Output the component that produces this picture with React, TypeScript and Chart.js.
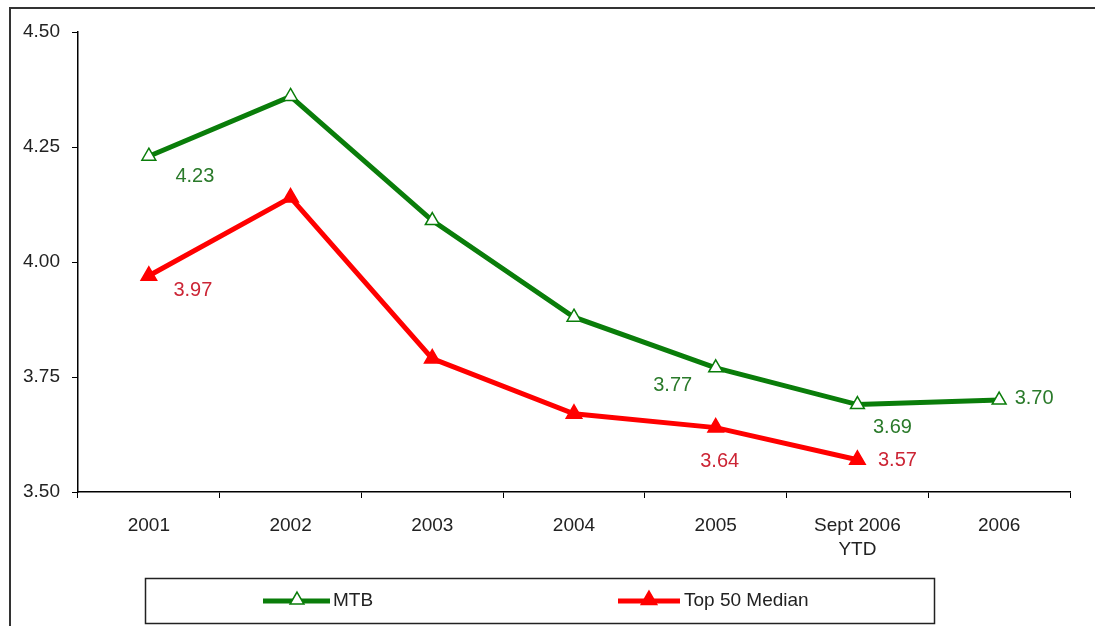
import React, { useEffect, useRef } from "react";
import { Chart, registerables } from "chart.js";

Chart.register(...registerables);

const categories: (string | string[])[] = ["2001", "2002", "2003", "2004", "2005", ["Sept 2006", "YTD"], "2006"];
const mtbValues: (number | null)[] = [4.23, 4.36, 4.09, 3.88, 3.77, 3.69, 3.7];
const top50Values: (number | null)[] = [3.97, 4.14, 3.79, 3.67, 3.64, 3.57, null];
const yTicks = [3.5, 3.75, 4.0, 4.25, 4.5];
const mtbLabel = "MTB";
const top50Label = "Top 50 Median";

// which points carry a value label, and where (style only)
const mtbLabelShown = [true, false, false, false, true, true, true];
const top50LabelShown = [true, false, false, false, true, true, false];
const mtbLabelOffsets = [[46, 20], [0, 0], [0, 0], [0, 0], [-43, 18], [35, 23], [35, -2]];
const top50LabelOffsets = [[44, 15], [0, 0], [0, 0], [0, 0], [4, 34], [40, 1], [0, 0]];

const GREEN = "#0a7d0a";
const RED = "#ff0000";
const GREEN_TEXT = "#2a7a2a";
const RED_TEXT = "#cc2535";
const FONT = "'Liberation Sans', Arial, sans-serif";

function tri(ctx: CanvasRenderingContext2D, x: number, y: number, r: number, fill: string, stroke: string) {
  ctx.beginPath();
  for (let i = 0; i < 3; i++) {
    const a = -Math.PI / 2 + (i * 2 * Math.PI) / 3;
    const px = x + Math.cos(a) * r;
    const py = y + Math.sin(a) * r;
    if (i === 0) ctx.moveTo(px, py);
    else ctx.lineTo(px, py);
  }
  ctx.closePath();
  ctx.fillStyle = fill;
  ctx.fill();
  ctx.lineWidth = 1.5;
  ctx.strokeStyle = stroke;
  ctx.stroke();
}

const decorPlugin = {
  id: "decor",
  afterDatasetsDraw(chart: any) {
    const ctx: CanvasRenderingContext2D = chart.ctx;
    ctx.save();
    ctx.font = `20px ${FONT}`;
    ctx.textAlign = "center";
    ctx.textBaseline = "middle";
    const cfg = [
      { shown: mtbLabelShown, offs: mtbLabelOffsets, vals: mtbValues, color: GREEN_TEXT },
      { shown: top50LabelShown, offs: top50LabelOffsets, vals: top50Values, color: RED_TEXT },
    ];
    cfg.forEach((c, di) => {
      const meta = chart.getDatasetMeta(di);
      meta.data.forEach((pt: any, i: number) => {
        const v = c.vals[i];
        if (!c.shown[i] || v == null) return;
        ctx.fillStyle = c.color;
        ctx.fillText(v.toFixed(2), pt.x + c.offs[i][0], pt.y + c.offs[i][1]);
      });
    });
    ctx.restore();
  },
  afterDraw(chart: any) {
    const ctx: CanvasRenderingContext2D = chart.ctx;
    ctx.save();
    // outer frame
    ctx.strokeStyle = "#333";
    ctx.lineWidth = 2;
    ctx.strokeRect(10, 8, 1300, 900);
    // legend box
    ctx.lineWidth = 1.5;
    ctx.strokeStyle = "#222";
    ctx.strokeRect(145.5, 578.5, 789, 45);
    const ly = 601;
    ctx.lineWidth = 5;
    ctx.strokeStyle = GREEN;
    ctx.beginPath();
    ctx.moveTo(263, ly);
    ctx.lineTo(330, ly);
    ctx.stroke();
    tri(ctx, 297, ly - 1, 8, "#ffffff", GREEN);
    ctx.lineWidth = 5;
    ctx.strokeStyle = RED;
    ctx.beginPath();
    ctx.moveTo(618, ly);
    ctx.lineTo(680, ly);
    ctx.stroke();
    tri(ctx, 649, ly - 1, 9, RED, RED);
    ctx.font = `19px ${FONT}`;
    ctx.fillStyle = "#222";
    ctx.textAlign = "left";
    ctx.textBaseline = "middle";
    ctx.fillText(mtbLabel, 333, ly);
    ctx.fillText(top50Label, 684, ly);
    ctx.restore();
  },
};

export default function App() {
  const ref = useRef<HTMLCanvasElement | null>(null);
  useEffect(() => {
    if (!ref.current) return;
    const chart = new Chart(ref.current, {
      type: "line",
      data: {
        labels: categories as any,
        datasets: [
          {
            label: mtbLabel,
            data: mtbValues,
            borderColor: GREEN,
            borderWidth: 5,
            backgroundColor: "#ffffff",
            pointStyle: "triangle",
            pointRadius: 8,
            pointBorderWidth: 1.5,
            pointBackgroundColor: "#ffffff",
            pointBorderColor: GREEN,
            tension: 0,
          },
          {
            label: top50Label,
            data: top50Values,
            borderColor: RED,
            borderWidth: 5,
            backgroundColor: RED,
            pointStyle: "triangle",
            pointRadius: 9,
            pointBorderWidth: 1.5,
            pointBackgroundColor: RED,
            pointBorderColor: RED,
            tension: 0,
          },
        ],
      },
      options: {
        animation: false,
        responsive: true,
        maintainAspectRatio: false,
        layout: { padding: { top: 32, right: 25, left: 0, bottom: 0 } },
        plugins: { legend: { display: false }, tooltip: { enabled: false } },
        scales: {
          x: {
            offset: true,
            grid: { offset: true, drawOnChartArea: false, drawTicks: true, tickLength: 6, color: "#000", lineWidth: 1 },
            border: { display: true, color: "#000", width: 1.5 },
            ticks: {
              font: { family: FONT, size: 19, lineHeight: 1.3 },
              color: "#222",
              padding: 15,
              maxRotation: 0,
              autoSkip: false,
            },
            afterFit: (s: any) => {
              s.height = 134;
            },
          },
          y: {
            min: 3.5,
            max: 4.5,
            afterBuildTicks: (s: any) => {
              s.ticks = yTicks.map((v) => ({ value: v }));
            },
            grid: { drawOnChartArea: false, drawTicks: true, tickLength: 6, color: "#000", lineWidth: 1 },
            border: { display: true, color: "#000", width: 1.5 },
            ticks: {
              font: { family: FONT, size: 19 },
              color: "#222",
              padding: 12,
              callback: (v: any) => Number(v).toFixed(2),
            },
            afterFit: (s: any) => {
              s.width = 78;
            },
          },
        },
      },
      plugins: [decorPlugin],
    });
    return () => chart.destroy();
  }, []);
  return (
    <div style={{ position: "fixed", left: 0, top: 0, width: 1095, height: 626, background: "#fff" }}>
      <canvas ref={ref} />
    </div>
  );
}
